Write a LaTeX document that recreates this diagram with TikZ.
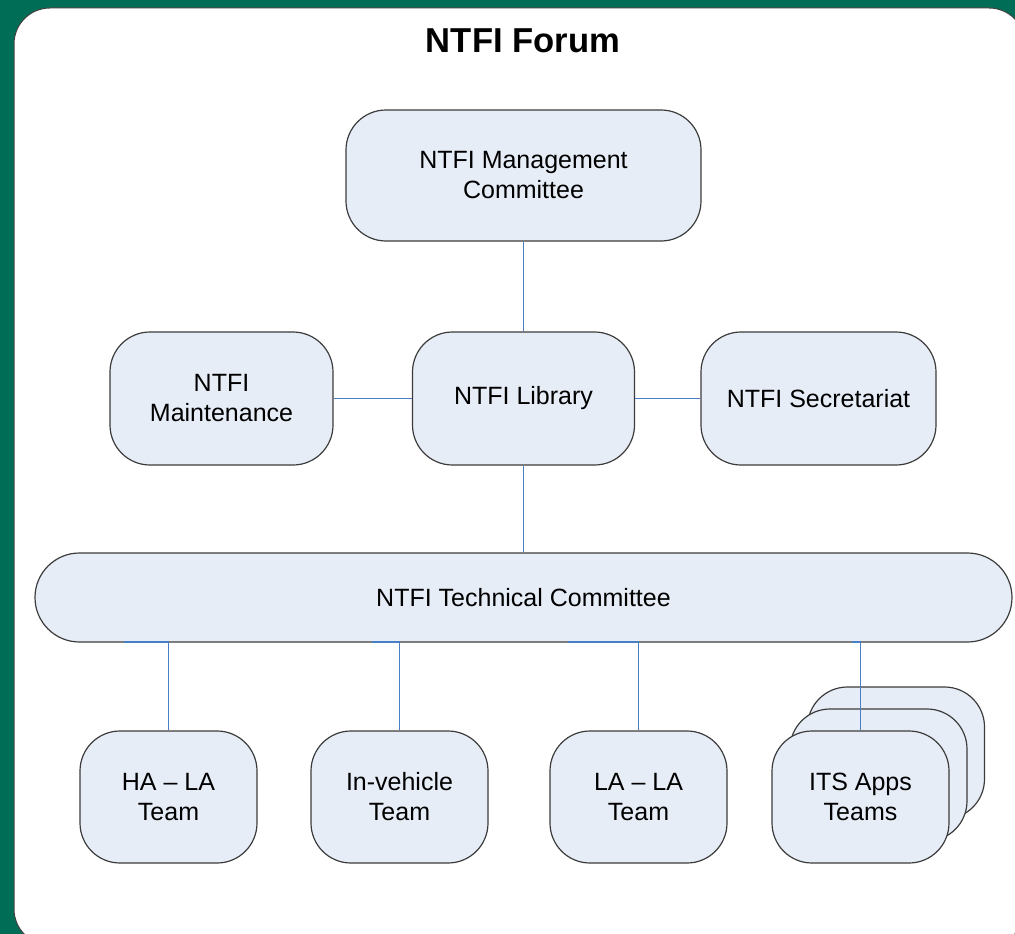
\documentclass[tikz,border=0pt]{standalone}
\usepackage{fontspec}
\setmainfont{Liberation Sans}
\definecolor{bggreen}{RGB}{0,110,86}
\definecolor{boxfill}{RGB}{231,237,247}
\definecolor{boxline}{RGB}{60,60,60}
\definecolor{connblue}{RGB}{74,126,196}
\begin{document}
\begin{tikzpicture}[x=1pt,y=-1pt,
  box/.style={draw=boxline, fill=boxfill, line width=1.2pt, rounded corners=40pt,
    inner sep=0pt, align=center, font=\fontsize{25}{30}\selectfont},
  conn/.style={draw=connblue, line width=1.1pt}]
\useasboundingbox (0,0) rectangle (1015,934);
\fill[bggreen] (0,0) rectangle (1015,934);
\draw[fill=white, draw=black!75, line width=1pt, rounded corners=36pt] (14,8) rectangle (1025,945);
\node[font=\fontsize{34.6}{40}\selectfont\bfseries] (title) at (523,41) {NTFI Forum};
% boxes
\node[box, minimum width=355pt, minimum height=131pt] (mgmt) at (523.5,175.5) {NTFI Management\\Committee};
\node[box, minimum width=223pt, minimum height=133pt] (maint) at (221.5,398.5) {NTFI\\Maintenance};
\node[box, minimum width=222pt, minimum height=133pt] (lib) at (523.5,398.5) {NTFI Library};
\node[box, minimum width=235pt, minimum height=133pt] (sec) at (818.5,398.5) {NTFI Secretariat};
\node[box, minimum width=977pt, minimum height=89pt, rounded corners=44.5pt] (tc) at (523.5,597.5) {NTFI Technical Committee};
\node[box, minimum width=177pt, minimum height=132pt] (ha) at (168.5,797) {HA – LA\\Team};
\node[box, minimum width=177pt, minimum height=132pt] (inv) at (399.5,797) {In-vehicle\\Team};
\node[box, minimum width=177pt, minimum height=132pt] (lala) at (638.5,797) {LA – LA\\Team};
\node[box, minimum width=177pt, minimum height=132pt] (its3) at (896,753) {};
\node[box, minimum width=177pt, minimum height=132pt] (its2) at (878.5,775) {};
\node[box, minimum width=177pt, minimum height=132pt] (its1) at (860.5,797) {ITS Apps\\Teams};
% connectors
\draw[conn] (mgmt.south) -- (lib.north);
\draw[conn] (maint.east) -- (lib.west);
\draw[conn] (lib.east) -- (sec.west);
\draw[conn] (lib.south) -- (tc.north);
\coordinate (s1) at (124,642);
\coordinate (s2) at (372,642);
\coordinate (s3) at (568,642);
\coordinate (s4) at (852,642);
\draw[conn] (s1) -| (ha.north);
\draw[conn] (s2) -| (inv.north);
\draw[conn] (s3) -| (lala.north);
\draw[conn] (s4) -| (its1.north);
\end{tikzpicture}
\end{document}
